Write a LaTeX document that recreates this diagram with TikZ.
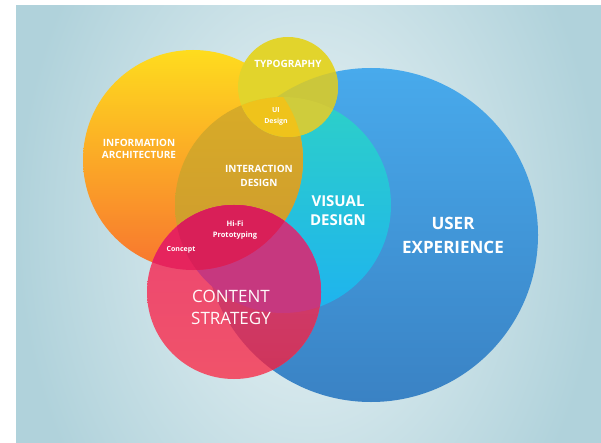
\documentclass[tikz,border=0pt]{standalone}
\usepackage{fontspec}
\setmainfont{Open Sans}
\usetikzlibrary{calc}
\definecolor{bgin}{HTML}{EBF4F6}
\definecolor{bgout}{HTML}{B0D2DB}
\definecolor{uxtop}{HTML}{48AAEC}
\definecolor{uxbot}{HTML}{3A82C4}
\definecolor{vdtop}{HTML}{2DD0C8}
\definecolor{vdbot}{HTML}{1EB3EF}
\definecolor{iatop}{HTML}{FEDC1E}
\definecolor{iamid}{HTML}{FBAE27}
\definecolor{iabot}{HTML}{F8752F}
\definecolor{ixtop}{HTML}{D8AC27}
\definecolor{ixbot}{HTML}{CB9531}
\definecolor{typo}{HTML}{E2D42C}
\definecolor{typoblue}{HTML}{CBC73B}
\definecolor{typocyan}{HTML}{CFCC3C}
\definecolor{typogold}{HTML}{EFC31B}
\definecolor{cstop}{HTML}{EC4471}
\definecolor{csbot}{HTML}{F0536A}
\definecolor{csblue}{HTML}{CE3459}
\definecolor{csbluetop}{HTML}{D2407A}
\definecolor{cscyan}{HTML}{C6387F}
\definecolor{csorange}{HTML}{E6245D}
\definecolor{cshifi}{HTML}{D91F58}
\def\uxc{(371,207) circle (167)}
\def\vdc{(283,237) circle (108)}
\def\iac{(193,282) circle (110)}
\def\tyc{(288,355) circle (50)}
\def\csc{(234,150) circle (87)}
\def\fs#1#2{\fontsize{#1}{#2}\selectfont}
\tikzset{
  lbl/.style={text=white, align=center, font=\bfseries, inner sep=0pt},
  lblthin/.style={text=white!92!pink, align=center, inner sep=0pt}
}

\begin{document}
\begin{tikzpicture}[x=1pt, y=1pt]
			%%%%% START %%%%%
			\useasboundingbox (0, 0) rectangle (601, 442);
			\fill[white] (0, 0) rectangle (601, 442);
			\begin{scope}
				\clip (16, 0) rectangle (601, 436);
				\shade[inner color=bgin, outer color=bgout] (16, -200) rectangle (601, 636);
			\end{scope}
			
			% big circles
			\shade[top color=uxtop, bottom color=uxbot] \uxc;
			\shade[top color=vdtop, bottom color=vdbot] \vdc;
			\shade[top color=iatop, middle color=iamid, bottom color=iabot] \iac;
			\begin{scope}
				\clip \iac;
				\shade[top color=ixtop, bottom color=ixbot] \vdc;
			\end{scope}
			
			% typography
			\fill[typo] \tyc;
			\begin{scope}
				\clip \tyc;
				\fill[typoblue] \uxc;
				\fill[typocyan] \vdc;
				\clip \iac;
				\fill[typogold] \vdc;
			\end{scope}
			
			% content strategy
			\shade[top color=cstop, bottom color=csbot] \csc;
			\begin{scope}
				\clip \csc;
				\begin{scope}
					\clip \uxc;
					\shade[top color=csbluetop, bottom color=csblue] (147, 63) rectangle (321, 237);
				\end{scope}
				\fill[cscyan] \vdc;
				\fill[csorange] \iac;
				\clip \iac;
				\fill[cshifi] \vdc;
			\end{scope}
			
			% labels
			\node[lbl, font=\bfseries\fs{17}{24}] (ux) at (453, 206.5) {USER\\EXPERIENCE};
			\node[lbl, font=\bfseries\fs{15}{19}] (vd) at (338, 231) {VISUAL\\DESIGN};
			\node[lblthin, font=\fs{17}{22}] (cs) at (231, 135) {CONTENT\\STRATEGY};
			\node[lbl, font=\bfseries\fs{10}{12.5}] (ia) at (139, 293) {INFORMATION\\ARCHITECTURE};
			\node[lbl, font=\bfseries\fs{10}{13.5}] (ixd) at (259, 266) {INTERACTION\\DESIGN};
			\node[lbl, font=\bfseries\fs{10}{12}] (typ) at (288, 378.5) {TYPOGRAPHY};
			\node[lbl, font=\bfseries\fs{7}{11}] (uid) at (276, 326) {UI\\Design};
			\node[lbl, font=\bfseries\fs{7.5}{11.5}] (hifi) at (235, 212) {Hi-Fi\\Prototyping};
			\node[lbl, font=\bfseries\fs{7}{9}] (concept) at (181, 192) {Concept};
			%%%%% END %%%%%
		\end{tikzpicture}
\end{document}
